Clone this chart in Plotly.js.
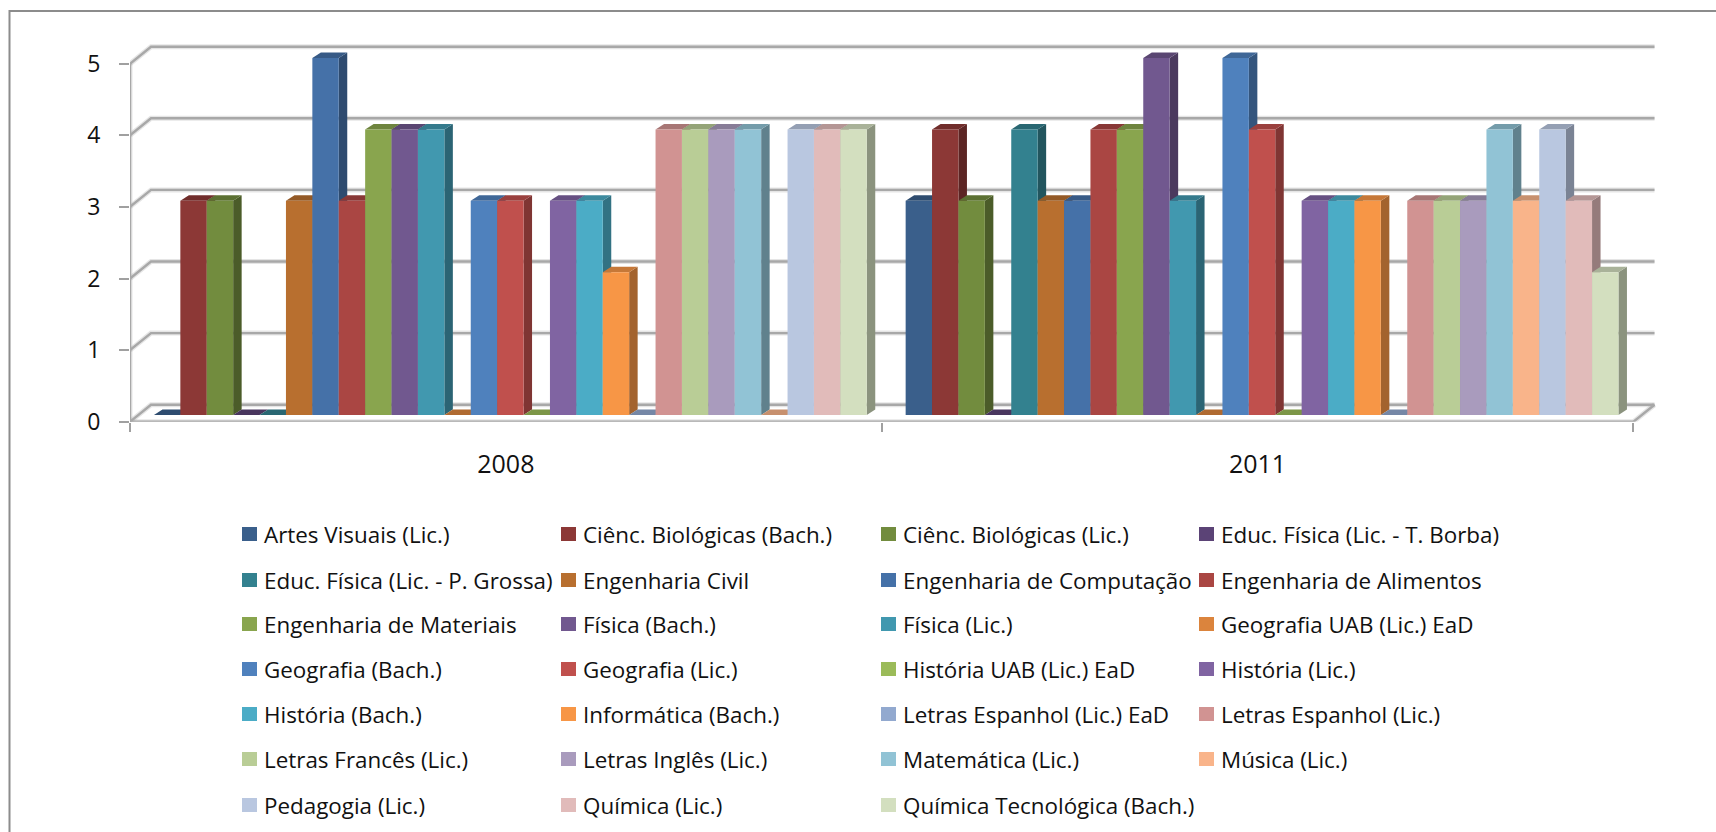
<!DOCTYPE html>
<html><head><meta charset="utf-8">
<script src="https://cdn.plot.ly/plotly-3.0.1.min.js"></script>
<style>html,body{margin:0;padding:0;background:#fff}#c{width:1716px;height:832px}</style></head>
<body><div id="c"></div>
<script>
const years = ['2008', '2011'];
const courses = ['Artes Visuais (Lic.)','Ciênc. Biológicas (Bach.)','Ciênc. Biológicas (Lic.)','Educ. Física (Lic. - T. Borba)',
 'Educ. Física (Lic. - P. Grossa)','Engenharia Civil','Engenharia de Computação','Engenharia de Alimentos',
 'Engenharia de Materiais','Física (Bach.)','Física (Lic.)','Geografia UAB (Lic.) EaD',
 'Geografia (Bach.)','Geografia (Lic.)','História UAB (Lic.) EaD','História (Lic.)',
 'História (Bach.)','Informática (Bach.)','Letras Espanhol (Lic.) EaD','Letras Espanhol (Lic.)',
 'Letras Francês (Lic.)','Letras Inglês (Lic.)','Matemática (Lic.)','Música (Lic.)',
 'Pedagogia (Lic.)','Química (Lic.)','Química Tecnológica (Bach.)'];
const values2008 = [0,3,3,0,0,3,5,3,4,4,4,0,3,3,0,3,3,2,0,4,4,4,4,0,4,4,4];
const values2011 = [3,4,3,0,4,3,3,4,4,5,3,0,5,4,0,3,3,3,0,3,3,3,4,3,4,3,2];
const colors = ['#3a5f8b','#8c3836','#728c3e','#5b4376','#33818f','#b86f2f','#4571a8','#aa4643','#89a54e','#71588f','#4198af','#db843d',
 '#4f81bd','#c0504d','#9bbb59','#8064a2','#4bacc6','#f79646','#92a9cf','#d19392','#b9cd96','#a99bbd','#91c3d5','#f9b48a','#b9c7e0','#e1bbba','#d3dfbf'];
const yTicks = [0,1,2,3,4,5];

// page geometry (px)
const W=1716,H=832;
const L=130,R=1657,T=36,B=421.7;
const bandPx=751.7, unitPx=71.6;
const xRange=[-0.5,-0.5+(R-L)/bandPx];
const yRange=[0,(B-T)/unitPx];
const barUnit=71.4, barZero=415, barShift=4.5, barW=26.4;
const xp=v=>v/bandPx;
const wallDx=21, wallDy=17;
const depthDx=8.5, depthDy=5.5;
const FONT='Open Sans', TXT='#111';

function shade(hex,f){const n=parseInt(hex.slice(1),16);
 return 'rgb('+[(n>>16)&255,(n>>8)&255,n&255].map(c=>Math.round(c*f)).join(',')+')';}

const traces=[];
const gx=[],gy=[];
const xL=-0.5, xE=-0.5+(1633.5-L)/bandPx;
yTicks.forEach(v=>{gx.push(xL,xL+xp(wallDx),xE+xp(wallDx),null);gy.push(v,v+wallDy/unitPx,v+wallDy/unitPx,null);});
gx.push(xL,xL);gy.push(0,5);
gx.push(null,xL,xE,xE+xp(wallDx));gy.push(null,0,0,wallDy/unitPx);
traces.push({type:'scatter',mode:'lines',x:gx,y:gy,xaxis:'x',yaxis:'y',hoverinfo:'skip',showlegend:false,line:{color:'rgba(110,110,110,0.18)',width:5}});
traces.push({type:'scatter',mode:'lines',x:gx,y:gy,xaxis:'x',yaxis:'y',hoverinfo:'skip',showlegend:false,line:{color:'#a8a8a8',width:2.4}});

const n=courses.length;
const yFace=v=>v*barUnit/unitPx+(B-barZero)/unitPx;
[values2008,values2011].forEach((vals,g)=>{
 vals.forEach((v,i)=>{
  const x0=g+(barShift+(i-n/2)*barW)/bandPx, x1=x0+barW/bandPx, d=xp(depthDx), e=depthDy/unitPx, y=yFace(v), y0=yFace(0);
  if(v>0) traces.push({type:'scatter',mode:'lines',fill:'toself',x:[x1,x1+d,x1+d,x1,x1],y:[y0,y0+e,y+e,y,y0],xaxis:'x',yaxis:'y',
    hoverinfo:'skip',showlegend:false,line:{width:0},fillcolor:shade(colors[i],0.66)});
  traces.push({type:'scatter',mode:'lines',fill:'toself',x:[x0,x1,x1+d,x0+d,x0],y:[y,y,y+e,y+e,y],xaxis:'x',yaxis:'y',
    hoverinfo:'skip',showlegend:false,line:{width:0},fillcolor:shade(colors[i],0.8)});
 });
});

courses.forEach((name,i)=>{
 traces.push({type:'bar',name:name,x:years,y:[values2008[i],values2011[i]],xaxis:'x2',yaxis:'y2',
  width:barW/bandPx,offset:(barShift+(i-n/2)*barW)/bandPx,
  marker:{color:colors[i],line:{width:0}},showlegend:false});
});

const cols=[242,561,881,1199], rows=[534,580,624,669,714,759,805];
const annotations=[],shapes=[];
courses.forEach((name,i)=>{
 const cx=cols[i%4], cy=rows[Math.floor(i/4)];
 shapes.push({type:'rect',xref:'paper',yref:'paper',x0:cx/W,x1:(cx+15)/W,y0:1-(cy+7)/H,y1:1-(cy-7)/H,fillcolor:colors[i],line:{width:0}});
 annotations.push({xref:'paper',yref:'paper',x:(cx+20)/W,y:1-cy/H,xanchor:'left',yanchor:'middle',showarrow:false,text:name,font:{family:FONT,size:22.4,color:TXT}});
});
shapes.push({type:'path',xref:'paper',yref:'paper',path:`M ${9.5/W} 0 L ${9.5/W} ${1-11/H} L 1 ${1-11/H}`,line:{color:'#8c8c8c',width:2}});

const layout={width:W,height:H,margin:{l:0,r:0,t:0,b:0,pad:0},paper_bgcolor:'#fff',plot_bgcolor:'rgba(0,0,0,0)',
 barmode:'overlay',showlegend:false,font:{family:FONT,size:22,color:TXT},shapes,annotations,
 xaxis:{domain:[L/W,R/W],range:xRange,visible:false,fixedrange:true},
 yaxis:{domain:[1-B/H,1-T/H],range:yRange,tickmode:'array',tickvals:yTicks,ticktext:yTicks.map(String),showgrid:false,zeroline:false,
   showline:false,ticks:'outside',ticklen:10,tickwidth:2,tickcolor:'#a0a0a0',ticklabelstandoff:14,tickfont:{family:FONT,size:23,color:TXT},anchor:'x',fixedrange:true},
 xaxis2:{domain:[L/W,R/W],overlaying:'x',type:'category',categoryorder:'array',categoryarray:years,range:xRange,anchor:'y2',side:'bottom',
   tickson:'boundaries',ticks:'outside',ticklen:9,tickwidth:2,tickcolor:'#a0a0a0',showline:false,showgrid:false,zeroline:false,ticklabelstandoff:25,
   tickfont:{family:FONT,size:25,color:TXT},fixedrange:true},
 yaxis2:{domain:[1-B/H,1-T/H],overlaying:'y',range:[-(B-barZero)/barUnit,(barZero-T)/barUnit],visible:false,anchor:'x2',fixedrange:true}
};
Plotly.newPlot('c',traces,layout,{staticPlot:true,displayModeBar:false});
</script></body></html>
